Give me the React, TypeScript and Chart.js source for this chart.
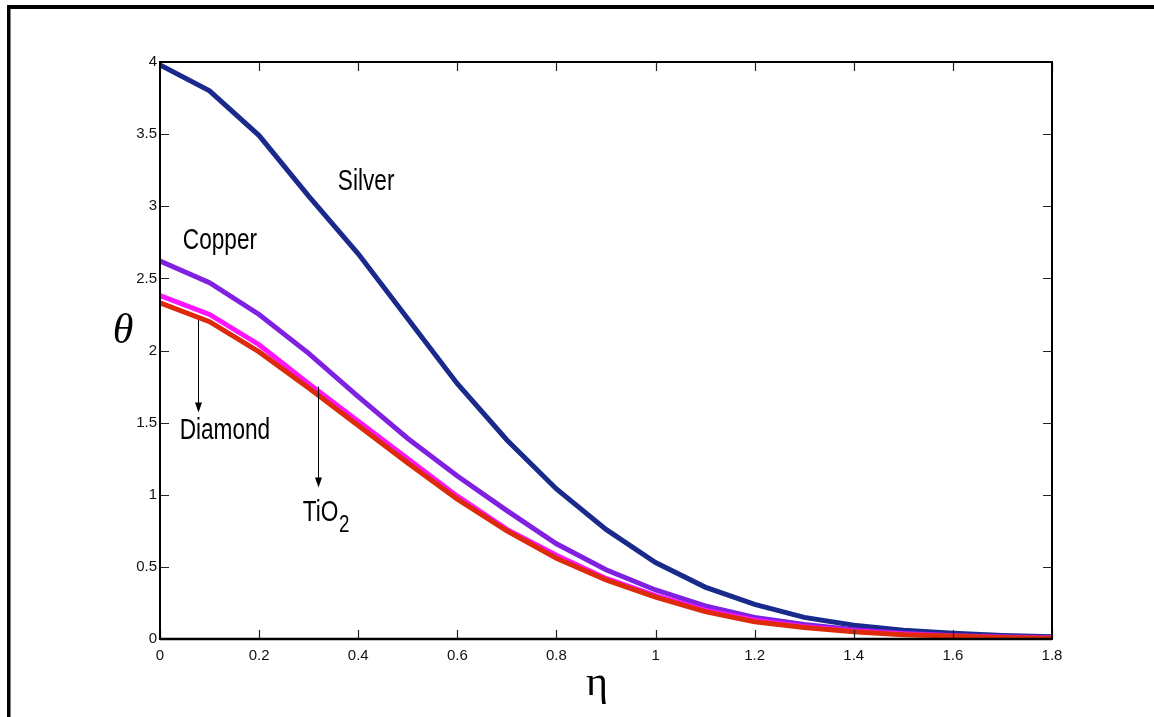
import React, { useEffect, useRef } from "react";
import { Chart, registerables } from "chart.js";

Chart.register(...registerables);

const etaValues = [0, 0.1, 0.2, 0.3, 0.4, 0.5, 0.6, 0.7, 0.8, 0.9, 1.0, 1.1, 1.2, 1.3, 1.4, 1.5, 1.6, 1.7, 1.8];
const silver = [3.98, 3.80, 3.49, 3.07, 2.67, 2.22, 1.77, 1.38, 1.04, 0.76, 0.53, 0.36, 0.24, 0.15, 0.095, 0.06, 0.04, 0.025, 0.015];
const copper = [2.62, 2.47, 2.25, 1.98, 1.68, 1.39, 1.13, 0.89, 0.66, 0.48, 0.34, 0.23, 0.15, 0.10, 0.065, 0.04, 0.025, 0.015, 0.01];
const diamond = [2.38, 2.25, 2.04, 1.77, 1.51, 1.25, 0.99, 0.76, 0.58, 0.42, 0.30, 0.20, 0.13, 0.085, 0.055, 0.035, 0.02, 0.012, 0.006];
const tio2 = [2.33, 2.20, 1.99, 1.74, 1.48, 1.22, 0.97, 0.75, 0.56, 0.41, 0.29, 0.19, 0.12, 0.08, 0.05, 0.03, 0.02, 0.01, 0.005];

const xTickValues = [0, 0.2, 0.4, 0.6, 0.8, 1, 1.2, 1.4, 1.6, 1.8];
const yTickValues = [0, 0.5, 1, 1.5, 2, 2.5, 3, 3.5, 4];
const xTickLabels = ["0", "0.2", "0.4", "0.6", "0.8", "1", "1.2", "1.4", "1.6", "1.8"];
const yTickLabels = ["0", "0.5", "1", "1.5", "2", "2.5", "3", "3.5", "4"];

const seriesNames = ["Silver", "Copper", "Diamond", "TiO2"];

// annotations anchored in data coordinates
const labelAnchors = [
  { text: "Silver", x: 0.416, y: 3.17 },
  { text: "Copper", x: 0.121, y: 2.76 },
  { text: "Diamond", x: 0.131, y: 1.44 },
];
const tioAnchor = { x: 0.288, y: 0.82 };
const arrows = [
  { x: 0.077, y0: 2.21, y1: 1.57 },
  { x: 0.319, y0: 1.75, y1: 1.05 },
];

const LABEL_FONT = "'Liberation Sans Narrow', 'Liberation Sans', Arial, sans-serif";

const decorPlugin = {
  id: "decor",
  beforeDraw(chart: any) {
    const ctx = chart.ctx;
    ctx.save();
    ctx.fillStyle = "#ffffff";
    ctx.fillRect(0, 0, chart.width, chart.height);
    ctx.restore();
  },
  afterDraw(chart: any) {
    const ctx = chart.ctx;
    const { left, right, top, bottom } = chart.chartArea;
    const xs = chart.scales.x;
    const ys = chart.scales.y;
    ctx.save();
    // outer frame
    ctx.fillStyle = "#000";
    ctx.fillRect(7, 5, 3.5, chart.height - 5);
    ctx.fillRect(7, 5, chart.width - 7, 4);

    // inward ticks
    ctx.strokeStyle = "#222";
    ctx.lineWidth = 1.2;
    const tl = 9;
    xTickValues.forEach((v) => {
      const px = Math.round(xs.getPixelForValue(v)) + 0.5;
      ctx.beginPath();
      ctx.moveTo(px, bottom);
      ctx.lineTo(px, bottom - tl);
      ctx.moveTo(px, top);
      ctx.lineTo(px, top + tl);
      ctx.stroke();
    });
    yTickValues.forEach((v) => {
      const py = Math.round(ys.getPixelForValue(v)) + 0.5;
      ctx.beginPath();
      ctx.moveTo(left, py);
      ctx.lineTo(left + tl, py);
      ctx.moveTo(right, py);
      ctx.lineTo(right - tl, py);
      ctx.stroke();
    });

    // axes box
    ctx.strokeStyle = "#000";
    ctx.lineWidth = 2;
    ctx.strokeRect(left, top, right - left, bottom - top);
    ctx.lineWidth = 2.5;
    ctx.beginPath();
    ctx.moveTo(left, bottom);
    ctx.lineTo(right, bottom);
    ctx.stroke();

    // annotations
    ctx.fillStyle = "#000";
    ctx.textAlign = "center";
    ctx.textBaseline = "middle";
    labelAnchors.forEach((a) => {
      const px = xs.getPixelForValue(a.x);
      const py = ys.getPixelForValue(a.y);
      ctx.save();
      ctx.translate(px, py);
      ctx.scale(0.78, 1);
      ctx.font = "29px 'Liberation Sans', Arial, sans-serif";
      ctx.fillText(a.text, 0, 0);
      ctx.restore();
    });
    {
      const px = xs.getPixelForValue(tioAnchor.x);
      const py = ys.getPixelForValue(tioAnchor.y);
      ctx.save();
      ctx.translate(px, py);
      ctx.scale(0.78, 1);
      ctx.font = "29px 'Liberation Sans', Arial, sans-serif";
      ctx.textAlign = "left";
      ctx.textBaseline = "alphabetic";
      ctx.fillText("TiO", 0, 0);
      const w = ctx.measureText("TiO").width;
      ctx.font = "24px 'Liberation Sans', Arial, sans-serif";
      ctx.fillText("2", w + 1, 11);
      ctx.restore();
    }

    // arrows
    ctx.strokeStyle = "#000";
    ctx.lineWidth = 1;
    arrows.forEach((a) => {
      const px = Math.round(xs.getPixelForValue(a.x)) + 0.5;
      const p0 = ys.getPixelForValue(a.y0);
      const p1 = ys.getPixelForValue(a.y1);
      ctx.beginPath();
      ctx.moveTo(px, p0);
      ctx.lineTo(px, p1 - 8);
      ctx.stroke();
      ctx.beginPath();
      ctx.moveTo(px - 3.5, p1 - 10);
      ctx.lineTo(px + 3.5, p1 - 10);
      ctx.lineTo(px, p1);
      ctx.closePath();
      ctx.fill();
    });

    // axis titles
    ctx.textAlign = "center";
    ctx.textBaseline = "middle";
    ctx.font = "italic 42px 'Liberation Serif', 'Times New Roman', serif";
    ctx.fillText("\u03b8", 123, 332);
    ctx.font = "42px 'Liberation Serif', 'Times New Roman', serif";
    ctx.fillText("\u03b7", 597, 684);
    ctx.restore();
  },
};

export default function App() {
  const canvasRef = useRef<HTMLCanvasElement | null>(null);

  useEffect(() => {
    const canvas = canvasRef.current;
    if (!canvas) return;
    const mk = (vals: number[]) => etaValues.map((x, i) => ({ x, y: vals[i] }));
    const chart = new Chart(canvas, {
      type: "line",
      data: {
        datasets: [
          { label: seriesNames[3], data: mk(tio2), borderColor: "#dd2a0a", borderWidth: 5, pointRadius: 0, tension: 0, fill: false },
          { label: seriesNames[2], data: mk(diamond), borderColor: "#ff14ff", borderWidth: 5, pointRadius: 0, tension: 0, fill: false },
          { label: seriesNames[1], data: mk(copper), borderColor: "#8020e0", borderWidth: 5, pointRadius: 0, tension: 0, fill: false },
          { label: seriesNames[0], data: mk(silver), borderColor: "#1a2a8c", borderWidth: 5, pointRadius: 0, tension: 0, fill: false },
        ],
      },
      options: {
        responsive: false,
        animation: false,
        layout: { padding: { left: 0, top: 62, right: 102, bottom: 48 } },
        plugins: { legend: { display: false }, tooltip: { enabled: false } },
        scales: {
          x: {
            type: "linear",
            min: 0,
            max: 1.8,
            grid: { display: false, drawTicks: false },
            border: { display: false },
            afterBuildTicks: (s: any) => {
              s.ticks = xTickValues.map((v) => ({ value: v }));
            },
            afterFit: (s: any) => {
              s.height = 30;
            },
            ticks: {
              autoSkip: false,
              maxRotation: 0,
              padding: 8,
              color: "#111",
              font: { family: LABEL_FONT, size: 15 },
              callback: (v: any) => {
                const i = xTickValues.findIndex((t) => Math.abs(t - Number(v)) < 1e-6);
                return i >= 0 ? xTickLabels[i] : "";
              },
            },
          },
          y: {
            type: "linear",
            min: 0,
            max: 4,
            grid: { display: false, drawTicks: false },
            border: { display: false },
            afterBuildTicks: (s: any) => {
              s.ticks = yTickValues.map((v) => ({ value: v }));
            },
            afterFit: (s: any) => {
              s.width = 160;
            },
            ticks: {
              autoSkip: false,
              padding: 3,
              color: "#111",
              font: { family: LABEL_FONT, size: 15 },
              callback: (v: any) => {
                const i = yTickValues.findIndex((t) => Math.abs(t - Number(v)) < 1e-6);
                return i >= 0 ? yTickLabels[i] : "";
              },
            },
          },
        },
      },
      plugins: [decorPlugin],
    });
    return () => chart.destroy();
  }, []);

  return (
    <div style={{ position: "fixed", left: 0, top: 0, width: 1154, height: 717, background: "#fff" }}>
      <canvas ref={canvasRef} width={1154} height={717} style={{ display: "block", width: 1154, height: 717 }} />
    </div>
  );
}
